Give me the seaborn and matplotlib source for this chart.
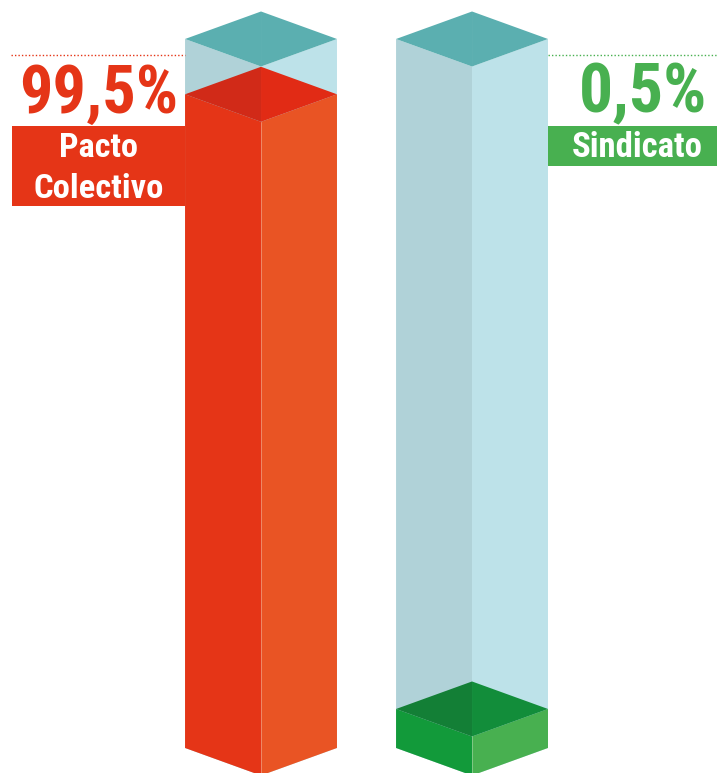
import matplotlib
matplotlib.use("Agg")
import matplotlib.pyplot as plt
from matplotlib import font_manager
import seaborn as sns
import numpy as np

# data
categories = ["Pacto\nColectivo", "Sindicato"]
share_labels = ["99,5%", "0,5%"]
share = [99.5, 0.5]
# level the graphic actually fills each column to (0-100 scale of the glass column)
fill_level = [92.2, 5.5]
column_max = 100

# colours
fill_side = [("#E53517", "#E95424"), ("#129A3A", "#48B050")]
fill_top = [("#D12A18", "#E12B15"), ("#137F36", "#128D3A")]
label_color = ["#E53517", "#48B050"]
glass_side = ("#B0D2D8", "#BDE2E9")
glass_top = "#5BAFB0"

W = 0.36   # half width of a column (x units)
D = 3.88   # isometric depth (y units)


def pick_font():
    fonts = font_manager.fontManager.ttflist
    names = {f.name for f in fonts}
    for name in ["Liberation Sans Narrow", "Roboto Condensed", "Open Sans Condensed"]:
        if name in names:
            return name, "normal"
    for f in fonts:
        if f.name == "DejaVu Sans" and "condensed" in str(f.stretch):
            return "DejaVu Sans", "condensed"
    if "Roboto" in names:
        return "Roboto", "normal"
    return "DejaVu Sans", "normal"


def box(ax, cx, h, sides, tops, z):
    # left face, right face, top diamond split in two halves
    left = [(cx - W, 0), (cx, -D), (cx, h - D), (cx - W, h)]
    right = [(cx, -D), (cx + W, 0), (cx + W, h), (cx, h - D)]
    ax.fill(*zip(*left), color=sides[0], lw=0, zorder=z)
    ax.fill(*zip(*right), color=sides[1], lw=0, zorder=z)
    top_l = [(cx - W, h), (cx, h + D), (cx, h - D)]
    top_r = [(cx, h + D), (cx + W, h), (cx, h - D)]
    ax.fill(*zip(*top_l), color=tops[0], lw=0, zorder=z + 0.1)
    ax.fill(*zip(*top_r), color=tops[1], lw=0, zorder=z + 0.1)


def fit(fig, txt, max_px):
    # shrink a label if the chosen font runs wider than the space in the picture
    r = fig.canvas.get_renderer()
    w = txt.get_window_extent(r).width
    if w > max_px:
        txt.set_fontsize(txt.get_fontsize() * max_px / w)


def main():
    sns.set_theme(style="white")
    fam, stretch = pick_font()
    plt.rcParams["font.family"] = [fam, "DejaVu Sans"]
    plt.rcParams["font.stretch"] = stretch

    fig = plt.figure(figsize=(7.17, 7.73), dpi=100)
    ax = fig.add_axes([0, 0, 1, 1])
    ax.set_xlim(-1.237, 2.161)
    ax.set_ylim(-3.53, 105.5)
    ax.axis("off")

    xs = np.arange(len(categories))
    for i, cx in enumerate(xs):
        # glass column
        box(ax, cx, column_max, glass_side, (glass_top, glass_top), 1)
        # filled part
        box(ax, cx, fill_level[i], fill_side[i], fill_top[i], 2)
        ax.plot([cx, cx], [-D, fill_level[i] - D], color="white", lw=0.6,
                alpha=0.35, zorder=3)

    # left: Pacto Colectivo
    ax.plot([-1.185, -0.36], [97.7, 97.7], ls=(0, (1, 1.5)), lw=1.0,
            color=label_color[0], zorder=4)
    t = ax.text(-0.393, 89.6, share_labels[0], ha="right", va="baseline",
                fontsize=49, fontweight="bold", color=label_color[0])
    fit(fig, t, 159)
    ax.fill_between([-1.180, -0.360], 76.4, 87.7, color=label_color[0], lw=0)
    name0 = categories[0].split("\n")
    t = ax.text(-0.77, 83.4, name0[0], ha="center", va="baseline",
                fontsize=25, fontweight="bold", color="white")
    fit(fig, t, 79)
    t = ax.text(-0.77, 77.6, name0[1], ha="center", va="baseline",
                fontsize=25, fontweight="bold", color="white")
    fit(fig, t, 130)

    # right: Sindicato
    ax.plot([1.36, 2.161], [97.7, 97.7], ls=(0, (1, 1.5)), lw=1.0,
            color=label_color[1], zorder=4)
    t = ax.text(2.114, 89.6, share_labels[1], ha="right", va="baseline",
                fontsize=49, fontweight="bold", color=label_color[1])
    fit(fig, t, 128)
    ax.fill_between([1.360, 2.161], 82.1, 87.7, color=label_color[1], lw=0)
    t = ax.text(1.782, 83.4, categories[1], ha="center", va="baseline",
                fontsize=25, fontweight="bold", color="white")
    fit(fig, t, 133)

    fig.savefig("out.png", dpi=100)
    plt.close(fig)


if __name__ == "__main__":
    main()
